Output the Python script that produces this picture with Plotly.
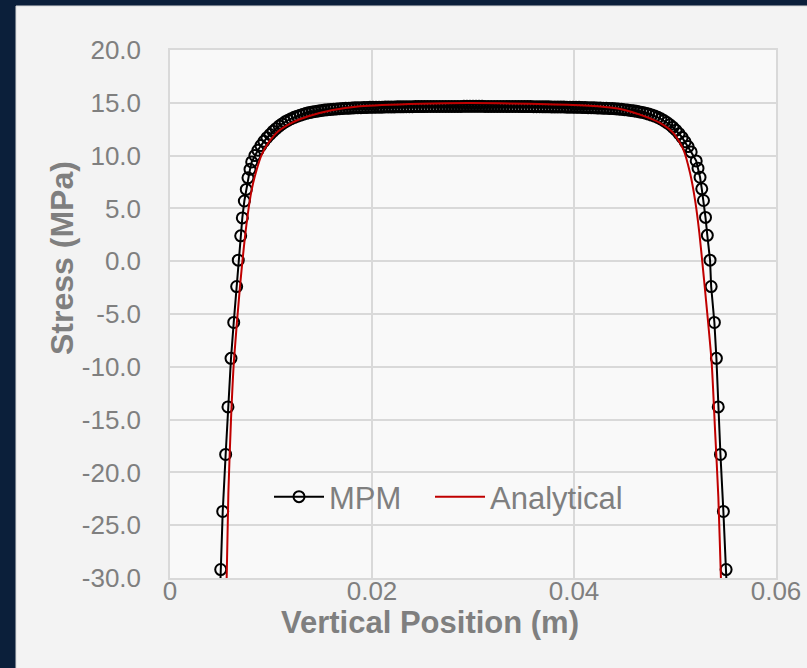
import plotly.graph_objects as go

# ---------------- data ----------------
mpm_x_left = [0.00484, 0.00502, 0.00522, 0.00551, 0.00574, 0.00604, 0.00631, 0.00660,
              0.00676, 0.00700, 0.00716, 0.00736, 0.00755, 0.00772, 0.00792, 0.00809]
mpm_y_left = [-34.7, -29.2, -23.7, -18.3, -13.8, -9.2, -5.8, -2.4,
              0.1, 2.4, 4.1, 5.7, 6.8, 7.9, 8.7, 9.4]

mpm_x_top_left = [0.0084, 0.0087, 0.0090, 0.0093, 0.0096, 0.0099, 0.0102, 0.0105, 0.0108, 0.0111,
                  0.0114, 0.0117, 0.0120, 0.0123, 0.0126, 0.0129, 0.0132, 0.0135, 0.0138, 0.0141,
                  0.0144, 0.0147, 0.0150, 0.0153, 0.0156, 0.0159, 0.0162, 0.0165, 0.0168, 0.0171,
                  0.0174, 0.0177, 0.0180, 0.0183, 0.0186, 0.0189, 0.0192, 0.0195, 0.0198, 0.0201,
                  0.0204, 0.0207, 0.0210, 0.0213, 0.0216, 0.0219, 0.0222, 0.0225, 0.0228, 0.0231,
                  0.0234, 0.0237, 0.0240, 0.0243, 0.0246, 0.0249, 0.0252, 0.0255, 0.0258, 0.0261,
                  0.0264, 0.0267, 0.0270, 0.0273, 0.0276, 0.0279, 0.0282, 0.0285, 0.0288, 0.0291,
                  0.0294, 0.0297, 0.0300]
mpm_y_top_left = [10.0, 10.5, 10.95, 11.35, 11.7, 12.0, 12.3, 12.55, 12.8, 13.0,
                  13.2, 13.35, 13.5, 13.62, 13.73, 13.83, 13.92, 14.0, 14.07, 14.13,
                  14.18, 14.23, 14.27, 14.31, 14.34, 14.37, 14.40, 14.42, 14.44, 14.46,
                  14.48, 14.49, 14.50, 14.52, 14.53, 14.54, 14.55, 14.56, 14.57, 14.57,
                  14.58, 14.59, 14.59, 14.60, 14.60, 14.61, 14.61, 14.62, 14.62, 14.62,
                  14.63, 14.63, 14.63, 14.64, 14.64, 14.64, 14.64, 14.65, 14.65, 14.65,
                  14.65, 14.65, 14.66, 14.66, 14.66, 14.66, 14.66, 14.66, 14.66, 14.67,
                  14.67, 14.67, 14.67]

mpm_x_top_right = [0.0303, 0.0306, 0.0309, 0.0312, 0.0315, 0.0318, 0.0321, 0.0324, 0.0327, 0.0330,
                   0.0333, 0.0336, 0.0339, 0.0342, 0.0345, 0.0348, 0.0351, 0.0354, 0.0357, 0.0360,
                   0.0363, 0.0366, 0.0369, 0.0372, 0.0375, 0.0378, 0.0381, 0.0384, 0.0387, 0.0390,
                   0.0393, 0.0396, 0.0399, 0.0402, 0.0405, 0.0408, 0.0411, 0.0414, 0.0417, 0.0420,
                   0.0423, 0.0426, 0.0429, 0.0432, 0.0435, 0.0438, 0.0441, 0.0444, 0.0447, 0.0450,
                   0.0453, 0.0456, 0.0459, 0.0462, 0.0465, 0.0468, 0.0471, 0.0474, 0.0477, 0.0480,
                   0.0483, 0.0486, 0.0489, 0.0492, 0.0495, 0.0498, 0.0501, 0.0504, 0.0507, 0.0510,
                   0.0513, 0.0516]
mpm_y_top_right = [14.67, 14.67, 14.67, 14.66, 14.66, 14.66, 14.66, 14.66, 14.66, 14.66,
                   14.65, 14.65, 14.65, 14.65, 14.65, 14.64, 14.64, 14.64, 14.64, 14.63,
                   14.63, 14.63, 14.62, 14.62, 14.62, 14.61, 14.61, 14.60, 14.60, 14.60,
                   14.59, 14.58, 14.58, 14.57, 14.57, 14.56, 14.55, 14.54, 14.53, 14.52,
                   14.51, 14.50, 14.49, 14.48, 14.47, 14.45, 14.43, 14.41, 14.38, 14.35,
                   14.32, 14.28, 14.24, 14.19, 14.14, 14.08, 14.01, 13.93, 13.84, 13.74,
                   13.62, 13.48, 13.32, 13.13, 12.92, 12.68, 12.40, 12.08, 11.72, 11.30,
                   10.85, 10.35]

mpm_x_right = [0.05210, 0.05228, 0.05248, 0.05265, 0.05282, 0.05302, 0.05320, 0.05347,
               0.05358, 0.05390, 0.05410, 0.05428, 0.05450, 0.05479, 0.05506, 0.05530]
mpm_y_right = [9.5, 8.8, 7.95, 6.85, 5.75, 4.15, 2.45, 0.1,
               -2.4, -5.8, -9.2, -13.8, -18.3, -23.7, -29.2, -34.7]

ana_x = [0.00559, 0.00578, 0.00604, 0.00634, 0.00693, 0.00759, 0.00809, 0.00858, 0.00908,
         0.00974, 0.01072, 0.01205, 0.01370, 0.01600, 0.01880, 0.02480, 0.02970, 0.03560,
         0.04060, 0.04360, 0.04500, 0.04653, 0.04851, 0.04983, 0.05083, 0.05149, 0.05198,
         0.05241, 0.05285, 0.05363, 0.05396, 0.05429, 0.05455, 0.05460]
ana_y = [-31.0, -21.9, -15.0, -9.3, -2.4, 3.63, 6.78, 8.67, 10.1,
         11.2, 12.3, 13.1, 13.72, 14.29, 14.67, 14.92, 14.99, 14.90,
         14.76, 14.55, 14.32, 13.88, 13.10, 12.15, 10.57, 8.36, 5.83,
         2.68, -1.5, -9.6, -15.9, -22.3, -30.1, -31.0]

x_tickvals = [0, 0.02, 0.04, 0.06]
x_ticktext = ["0", "0.02", "0.04", "0.06"]
y_tickvals = [-30, -25, -20, -15, -10, -5, 0, 5, 10, 15, 20]
y_ticktext = ["-30.0", "-25.0", "-20.0", "-15.0", "-10.0", "-5.0", "0.0", "5.0", "10.0", "15.0", "20.0"]

mpm_x = mpm_x_left + mpm_x_top_left + mpm_x_top_right + mpm_x_right
mpm_y = mpm_y_left + mpm_y_top_left + mpm_y_top_right + mpm_y_right

# ---------------- figure ----------------
W, H = 807, 668
L, R, T, B = 170, 31, 50, 90
pw, ph = W - L - R, H - T - B


def px(xp):
    return (xp - L) / pw


def py(yp):
    return (H - B - yp) / ph


GRAY = "#7f7f7f"
FONT = "Liberation Sans, Arial, sans-serif"

fig = go.Figure()
fig.add_trace(go.Scatter(
    x=mpm_x, y=mpm_y, name="MPM", mode="lines+markers", legend="legend",
    line=dict(color="black", width=2),
    marker=dict(symbol="circle-open", size=11, color="black", line=dict(width=2)),
))
fig.add_trace(go.Scatter(
    x=ana_x, y=ana_y, name="Analytical", mode="lines", legend="legend2",
    line=dict(color="#c00000", width=2, shape="spline", smoothing=0.6),
))

legend_common = dict(orientation="h", xanchor="left", yanchor="middle",
                     bgcolor="rgba(0,0,0,0)", borderwidth=0,
                     font=dict(size=31, color=GRAY, family=FONT),
                     itemwidth=50, tracegroupgap=0)

fig.update_layout(
    template="none",
    width=W, height=H,
    margin=dict(l=L, r=R, t=T, b=B, pad=0, autoexpand=False),
    paper_bgcolor="#0b1f3a",
    plot_bgcolor="rgba(0,0,0,0)",
    font=dict(family=FONT, color=GRAY, size=26),
    showlegend=True,
    legend=dict(x=px(269), y=py(497), **legend_common),
    legend2=dict(x=px(430), y=py(497), **legend_common),
    shapes=[
        dict(type="rect", xref="paper", yref="paper", layer="below",
             x0=px(16), x1=px(815), y0=py(675), y1=py(6),
             fillcolor="#f3f3f3", line=dict(color="#d9d9d9", width=1)),
        dict(type="rect", xref="paper", yref="paper", layer="below",
             x0=0, x1=1, y0=0, y1=1,
             fillcolor="#f9f9f9", line=dict(width=0)),
    ],
    annotations=[
        dict(text="<b>Vertical Position (m)</b>", xref="paper", yref="paper",
             x=px(430), y=py(622), showarrow=False, xanchor="center", yanchor="middle",
             font=dict(size=31, color=GRAY, family=FONT)),
        dict(text="<b>Stress (MPa)</b>", xref="paper", yref="paper",
             x=px(62), y=py(258), showarrow=False, xanchor="center", yanchor="middle",
             textangle=-90, font=dict(size=32, color=GRAY, family=FONT)),
    ],
)

fig.update_xaxes(range=[0, 0.06], tickvals=x_tickvals, ticktext=x_ticktext, automargin=False,
                 showgrid=True, gridcolor="#d9d9d9", gridwidth=1.5, zeroline=False,
                 showline=True, linecolor="#d9d9d9", linewidth=1.5, mirror=True,
                 ticks="", ticklabelstandoff=-11, tickfont=dict(size=26, color=GRAY))
fig.update_yaxes(range=[-30, 20], tickvals=y_tickvals, ticktext=y_ticktext, automargin=False,
                 showgrid=True, gridcolor="#d9d9d9", gridwidth=1.5, zeroline=False,
                 showline=True, linecolor="#d9d9d9", linewidth=1.5, mirror=True,
                 ticks="", ticklabelstandoff=22, tickfont=dict(size=26, color=GRAY))

fig.write_html("out.html")
